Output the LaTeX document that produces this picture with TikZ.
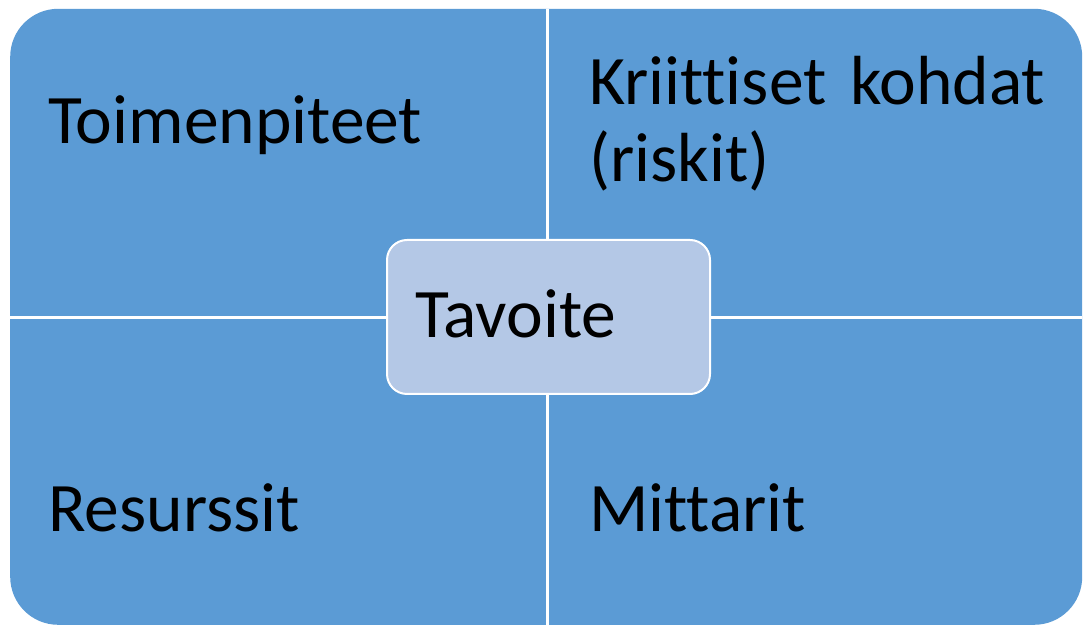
\documentclass[tikz,border=0pt]{standalone}
\usepackage{fontspec}
\setmainfont[Ligatures={NoCommon,NoRequired,NoContextual}]{Carlito}
\definecolor{quad}{HTML}{5B9BD5}
\definecolor{center}{HTML}{B4C8E6}
\begin{document}
\begin{tikzpicture}[x=1pt,y=1pt,
  lbl/.style={anchor=base west,inner sep=0pt,font=\fontsize{69.5}{77}\selectfont,text=black},
  divider/.style={draw=white,line width=3pt}]
\useasboundingbox (0,0) rectangle (1083,626);
\node[fill=quad,rounded corners=48pt,minimum width=1072pt,minimum height=616pt,inner sep=0pt,anchor=south west] (outer) at (10,1) {};
\coordinate (top) at (547,617);
\coordinate (bot) at (547,1);
\coordinate (left) at (10,308);
\coordinate (right) at (1082,308);
\draw[divider] (top) -- (bot);
\draw[divider] (left) -- (right);
\node[fill=center,draw=white,line width=2pt,rounded corners=20pt,minimum width=323pt,minimum height=154pt,inner sep=0pt,anchor=south west] (goal) at (386,231) {};
\node[lbl] (t1) at (48,482) {Toimenpiteet};
\node[lbl,align=left] (t2) at (589,444) {\makebox[456pt][s]{Kriittiset kohdat}\\(riskit)};
\node[lbl] (t3) at (48,94) {Resurssit};
\node[lbl] (t4) at (589,94) {Mittarit};
\node[lbl] (t5) at (415,288) {Tavoite};
\end{tikzpicture}
\end{document}
